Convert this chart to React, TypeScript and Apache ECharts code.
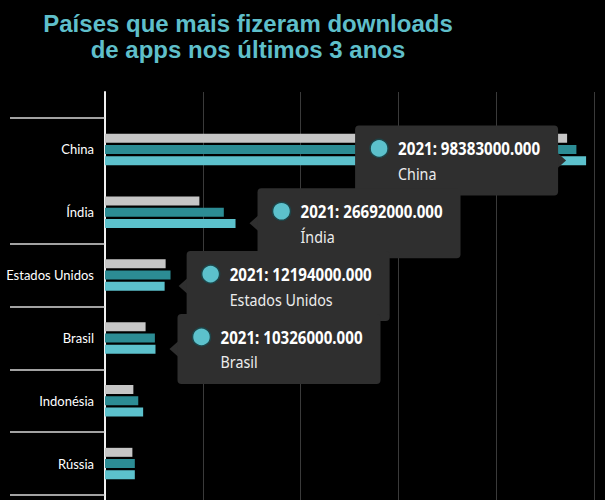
import React, { useEffect, useRef } from "react";
import * as echarts from "echarts";

const categories = ["China", "Índia", "Estados Unidos", "Brasil", "Indonésia", "Rússia"];
const v2019 = [94500000, 19300000, 12400000, 8300000, 5800000, 5600000];
const v2020 = [96400000, 24300000, 13400000, 10200000, 6800000, 6100000];
const v2021 = [98383000, 26692000, 12194000, 10326000, 7800000, 6100000];
const seriesNames = ["2019", "2020", "2021"];
const tooltipIndex = [0, 1, 2, 3];
const tooltipSide = [-1, 1, 1, 1];

const xMax = 100000000;
const xInterval = 20000000;

const COLORS = ["#c6c6c6", "#2c8c94", "#5cc1cc"];
const TIP_FONT = '"Noto Sans", "Open Sans", sans-serif';
const LABEL_FONT = 'Lato, "Noto Sans", sans-serif';

export default function App() {
  const ref = useRef<HTMLDivElement>(null);
  useEffect(() => {
    if (!ref.current) return;
    const chart = echarts.init(ref.current, null, { renderer: "svg" });
    const BAR_W = 9;
    const tipData = tooltipIndex.map((i, k) => [v2021[i], i, tooltipSide[k]]);
    chart.setOption({
      animation: false,
      backgroundColor: "#000",
      title: {
        text: "Países que mais fizeram downloads\nde apps nos últimos 3 anos",
        left: 243,
        top: 5,
        textAlign: "center",
        textStyle: {
          color: "#5fbfca",
          fontSize: 24,
          fontWeight: "bold",
          fontFamily: '"Liberation Sans", Arial, sans-serif',
          lineHeight: 26,
        },
      },
      grid: [
        { left: 105, right: 11, top: 92, bottom: 0, outerBoundsMode: "none", containLabel: false },
        { left: 105, right: 11, top: 118, bottom: 5, outerBoundsMode: "none", containLabel: false },
      ],
      xAxis: [
        {
          gridIndex: 0,
          type: "value",
          min: 0,
          max: xMax,
          interval: xInterval,
          axisLine: { show: false },
          axisTick: { show: false },
          axisLabel: { show: false },
          splitLine: { show: true, lineStyle: { color: "#3a3a3a", width: 1 } },
        },
        {
          gridIndex: 1,
          type: "value",
          min: 0,
          max: xMax,
          interval: xInterval,
          show: false,
          splitLine: { show: false },
        },
      ],
      yAxis: [
        {
          gridIndex: 0,
          type: "value",
          min: 0,
          max: 1,
          axisLine: { show: true, lineStyle: { color: "#f0f0f0", width: 2 } },
          axisTick: { show: false },
          axisLabel: { show: false },
          splitLine: { show: false },
        },
        {
          gridIndex: 1,
          type: "category",
          data: categories,
          inverse: true,
          axisLine: { show: false },
          axisTick: {
            show: true,
            length: 95,
            interval: (index: number) => index !== 1,
            lineStyle: { color: "#d8d8d8", width: 1.5 },
          },
          axisLabel: {
            color: "#ffffff",
            fontSize: 13,
            fontFamily: LABEL_FONT,
            margin: 11,
          },
          splitLine: { show: false },
        },
      ],
      series: [
        ...[v2019, v2020, v2021].map((d, s) => ({
          type: "bar",
          name: seriesNames[s],
          xAxisIndex: 1,
          yAxisIndex: 1,
          data: d,
          barWidth: BAR_W,
          barGap: "25%",
          itemStyle: { color: COLORS[s] },
        })),
        {
          type: "custom",
          name: "tooltips",
          xAxisIndex: 1,
          yAxisIndex: 1,
          data: tipData,
          clip: false,
          z: 10,
          renderItem: (params: any, api: any) => {
            const val = api.value(0);
            const idx = api.value(1);
            const side = api.value(2);
            const p = api.coord([val, idx]);
            const y = p[1] + 11;
            const W = 203;
            const H = 70;
            const A = 8;
            const gap = side < 0 ? 20 : 14;
            const tipX = p[0] + side * gap;
            const boxX = side < 0 ? tipX - A - W : tipX + A;
            const boxY = y - H / 2;
            const arrowBase = side < 0 ? tipX - A - 1 : tipX + A + 1;
            return {
              type: "group",
              children: [
                {
                  type: "polygon",
                  shape: { points: [[tipX, y], [arrowBase, y - 8], [arrowBase, y + 8]] },
                  style: { fill: "#2f2f2f" },
                },
                {
                  type: "rect",
                  shape: { x: boxX, y: boxY, width: W, height: H, r: 4 },
                  style: { fill: "#2f2f2f" },
                },
                {
                  type: "circle",
                  shape: { cx: boxX + 24, cy: boxY + 23, r: 9 },
                  style: { fill: "#5cc1cc", stroke: "#1d4549", lineWidth: 1.5 },
                },
                {
                  type: "text",
                  x: boxX + 43,
                  y: boxY + 23,
                  scaleX: 0.84,
                  style: {
                    text: `${seriesNames[2]}: ${Number(val).toFixed(3)}`,
                    fill: "#ffffff",
                    font: `bold 18px ${TIP_FONT}`,
                    verticalAlign: "middle",
                  },
                },
                {
                  type: "text",
                  x: boxX + 43,
                  y: boxY + 48,
                  scaleX: 0.84,
                  style: {
                    text: categories[idx],
                    fill: "#ececec",
                    font: `17px ${TIP_FONT}`,
                    verticalAlign: "middle",
                  },
                },
              ],
            };
          },
        },
      ],
    });
    return () => chart.dispose();
  }, []);
  return <div ref={ref} style={{ width: 605, height: 500, position: "absolute", left: 0, top: 0 }} />;
}
